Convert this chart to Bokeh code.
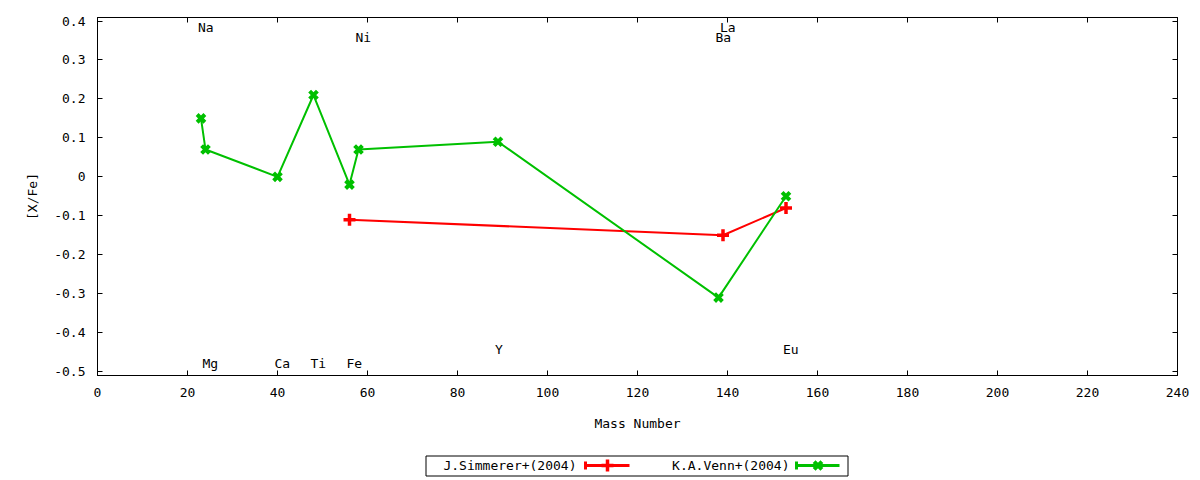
from bokeh.plotting import figure
from bokeh.models import ColumnDataSource, Range1d, FixedTicker, LinearAxis
from bokeh.layouts import column
from bokeh.core.properties import value
from bokeh.embed import file_html
from bokeh.resources import INLINE

FONT = "DejaVu Sans Mono"
FS = "13px"

# ---- data ----
venn_mass = [23, 24, 40, 48, 56, 58, 89, 138, 153]
venn_xfe = [0.15, 0.07, 0.00, 0.21, -0.02, 0.07, 0.09, -0.31, -0.05]
simm_mass = [56, 139, 153]
simm_xfe = [-0.11, -0.15, -0.08]

elem_names = ["Na", "Mg", "Ca", "Ti", "Fe", "Ni", "Y", "Ba", "La", "Eu"]
elem_mass = [23, 24, 40, 48, 56, 58, 89, 138, 139, 153]
elem_label_y = [0.384, -0.479, -0.479, -0.479, -0.479, 0.358, -0.443, 0.358, 0.384, -0.443]

x_ticks = [0, 20, 40, 60, 80, 100, 120, 140, 160, 180, 200, 220, 240]
y_ticks = [-0.5, -0.4, -0.3, -0.2, -0.1, 0, 0.1, 0.2, 0.3, 0.4]
y_tick_labels = ["-0.5", "-0.4", "-0.3", "-0.2", "-0.1", "0", "0.1", "0.2", "0.3", "0.4"]

series_names = ["J.Simmerer+(2004)", "K.A.Venn+(2004)"]
RED = "#ff0000"
GREEN = "#00c000"

# ---- main plot ----
p = figure(width=1192, height=440, output_backend="svg", toolbar_location=None,
           x_range=Range1d(0, 240), y_range=Range1d(-0.51, 0.409),
           min_border_left=97, min_border_right=15, min_border_top=17, min_border_bottom=65)
p.frame_width = 1080
p.frame_height = 358
p.xgrid.visible = False
p.ygrid.visible = False
p.outline_line_color = "black"
p.outline_line_width = 1
p.background_fill_color = "white"
p.border_fill_color = "white"

p.xaxis.ticker = FixedTicker(ticks=x_ticks)
p.yaxis.ticker = FixedTicker(ticks=y_ticks)
p.yaxis.major_label_overrides = {t: s for t, s in zip(y_ticks, y_tick_labels)}
p.xaxis.axis_label = "Mass Number"
p.yaxis.axis_label = "[X/Fe]"

for ax in (p.xaxis[0], p.yaxis[0]):
    ax.major_tick_in = 5
    ax.major_tick_out = 0
    ax.minor_tick_in = 0
    ax.minor_tick_out = 0
    ax.major_label_text_font = FONT
    ax.major_label_text_font_size = FS
    ax.major_label_text_color = "black"
    ax.axis_label_text_font = FONT
    ax.axis_label_text_font_size = FS
    ax.axis_label_text_font_style = "normal"
    ax.axis_label_text_color = "black"
    ax.axis_line_color = "black"
    ax.major_tick_line_color = "black"
p.xaxis.major_label_standoff = 12
p.yaxis.major_label_standoff = 12
p.xaxis.axis_label_standoff = 16
p.yaxis.axis_label_standoff = 11

top_ax = LinearAxis(ticker=FixedTicker(ticks=x_ticks), major_tick_in=5, major_tick_out=0,
                    minor_tick_in=0, minor_tick_out=0, major_label_text_font_size="1px",
                    major_label_text_alpha=0, major_label_standoff=0, axis_line_color="black")
right_ax = LinearAxis(ticker=FixedTicker(ticks=y_ticks), major_tick_in=5, major_tick_out=0,
                      minor_tick_in=0, minor_tick_out=0, major_label_text_font_size="1px",
                      major_label_text_alpha=0, major_label_standoff=0, axis_line_color="black")
p.add_layout(top_ax, "above")
p.add_layout(right_ax, "right")

simm_src = ColumnDataSource(dict(x=simm_mass, y=simm_xfe))
venn_src = ColumnDataSource(dict(x=venn_mass, y=venn_xfe))

p.line("x", "y", source=simm_src, line_color=RED, line_width=2)
p.scatter("x", "y", source=simm_src, marker="cross", size=12, line_color=RED, line_width=3.5)
p.line("x", "y", source=venn_src, line_color=GREEN, line_width=2)
p.scatter("x", "y", source=venn_src, marker="x", size=11, line_color=GREEN, line_width=4)

lab_src = ColumnDataSource(dict(x=elem_mass, y=elem_label_y, t=elem_names))
p.text("x", "y", text="t", source=lab_src, text_font=value(FONT), text_font_size=FS,
       text_align="left", text_baseline="middle", text_color="black", x_offset=-3)

# ---- legend strip (page-pixel coordinates; frame aligned with main frame) ----
leg = figure(width=1192, height=38, output_backend="svg", toolbar_location=None,
             x_range=Range1d(97, 1177), y_range=Range1d(478, 440),
             min_border_left=97, min_border_right=15, min_border_top=0, min_border_bottom=0)
leg.frame_width = 1080
leg.axis.visible = False
leg.xgrid.visible = False
leg.ygrid.visible = False
leg.outline_line_color = None
leg.border_fill_color = "white"

leg.quad(left=[425.5], right=[847.5], top=[455.5], bottom=[475.5], fill_color=None,
         line_color="black", line_width=1)
ly = 465
entries = [(series_names[0], RED, "cross", 576, 585, 629),
           (series_names[1], GREEN, "x", 789, 796, 839)]
for name, col, mk, tx, x0, x1 in entries:
    leg.text([tx], [ly], text=[name], text_font=value(FONT), text_font_size=FS,
             text_align="right", text_baseline="middle", text_color="black")
    leg.segment([x0], [ly], [x1], [ly], line_color=col, line_width=3)
    leg.segment([x0, x1], [ly - 4], [x0, x1], [ly + 4], line_color=col, line_width=3)
    leg.scatter([(x0 + x1) / 2], [ly], marker=mk, size=12 if mk == "cross" else 11,
                line_color=col, line_width=3.5 if mk == "cross" else 4)

layout = column(p, leg, spacing=0)
open("out.html", "w").write(file_html(layout, INLINE))
